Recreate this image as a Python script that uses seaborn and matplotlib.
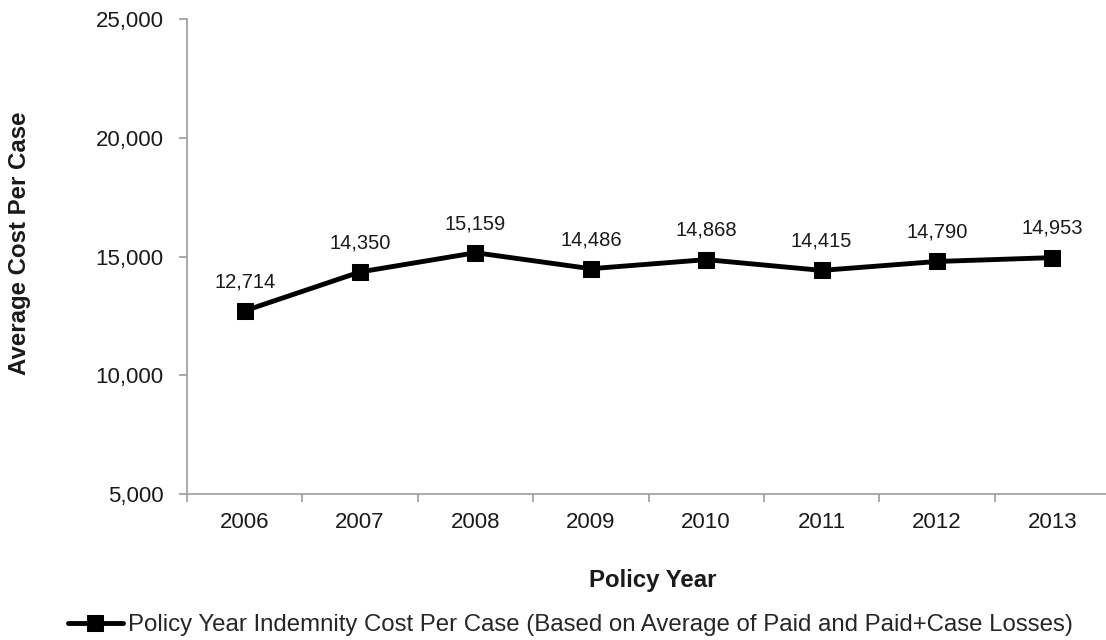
import numpy as np
import pandas as pd
import matplotlib
matplotlib.use("Agg")
import matplotlib.pyplot as plt
from matplotlib.ticker import FuncFormatter, FixedLocator
import seaborn as sns

years = ["2006", "2007", "2008", "2009", "2010", "2011", "2012", "2013"]
cost_per_case = [12714, 14350, 15159, 14486, 14868, 14415, 14790, 14953]
series_name = "Policy Year Indemnity Cost Per Case (Based on Average of Paid and Paid+Case Losses)"
y_ticks = [5000, 10000, 15000, 20000, 25000]

sns.set_theme(style="white")
plt.rcParams["font.family"] = ["Liberation Sans", "DejaVu Sans"]

df = pd.DataFrame({"pos": np.arange(len(years)), "year": years, "cost": cost_per_case})

fig = plt.figure(figsize=(11.06, 6.4), dpi=100)
ax = fig.add_axes([187 / 1106, 1 - 494 / 640, (1110 - 187) / 1106, (494 - 19) / 640])

sns.lineplot(data=df, x="pos", y="cost", ax=ax, color="black", linewidth=3.5,
             marker="s", markersize=11, markeredgecolor="black",
             markerfacecolor="black", label=series_name)

for x, v in zip(df["pos"], df["cost"]):
    ax.annotate(f"{v:,}", (x, v), xytext=(0, 21), textcoords="offset points",
                ha="center", va="center", fontsize=14.5, color="#1a1a1a")

ax.set_xlim(-0.5, len(years) - 0.5)
ax.set_ylim(5000, 25000)
ax.yaxis.set_major_locator(FixedLocator(y_ticks))
ax.yaxis.set_major_formatter(FuncFormatter(lambda v, p: f"{int(v):,}"))
ax.set_xticks(df["pos"])
ax.set_xticklabels(years)
ax.set_xticks(np.arange(-0.5, len(years)), minor=True)

spine_color = "#9c9c9c"
for side in ["top", "right"]:
    ax.spines[side].set_visible(False)
for side in ["left", "bottom"]:
    ax.spines[side].set_color(spine_color)
    ax.spines[side].set_linewidth(1.2)

ax.tick_params(axis="y", which="major", direction="out", length=6, width=1.2,
               color=spine_color, pad=11, labelsize=16, labelcolor="#1a1a1a", left=True)
ax.tick_params(axis="x", which="major", length=0, pad=13, labelsize=16,
               labelcolor="#1a1a1a", bottom=True)
ax.tick_params(axis="x", which="minor", direction="out", length=6, width=1.2,
               color=spine_color, bottom=True)

ax.set_xlabel("Policy Year", fontsize=17.3, fontweight="bold", color="#1a1a1a")
ax.set_ylabel("Average Cost Per Case", fontsize=17.3, fontweight="bold", color="#1a1a1a")
ax.xaxis.set_label_coords((653 - 187) / (1110 - 187), -(569 - 494) / (494 - 19))
ax.yaxis.set_label_coords(-(187 - 31) / (1110 - 187), (494 - 243) / (494 - 19))

ax.legend(loc="center", bbox_to_anchor=(570 / 1106, 1 - 625 / 640),
          bbox_transform=fig.transFigure, frameon=False, fontsize=17.3,
          handlelength=2.3, handletextpad=0.2)

fig.savefig("out.png", dpi=100)
